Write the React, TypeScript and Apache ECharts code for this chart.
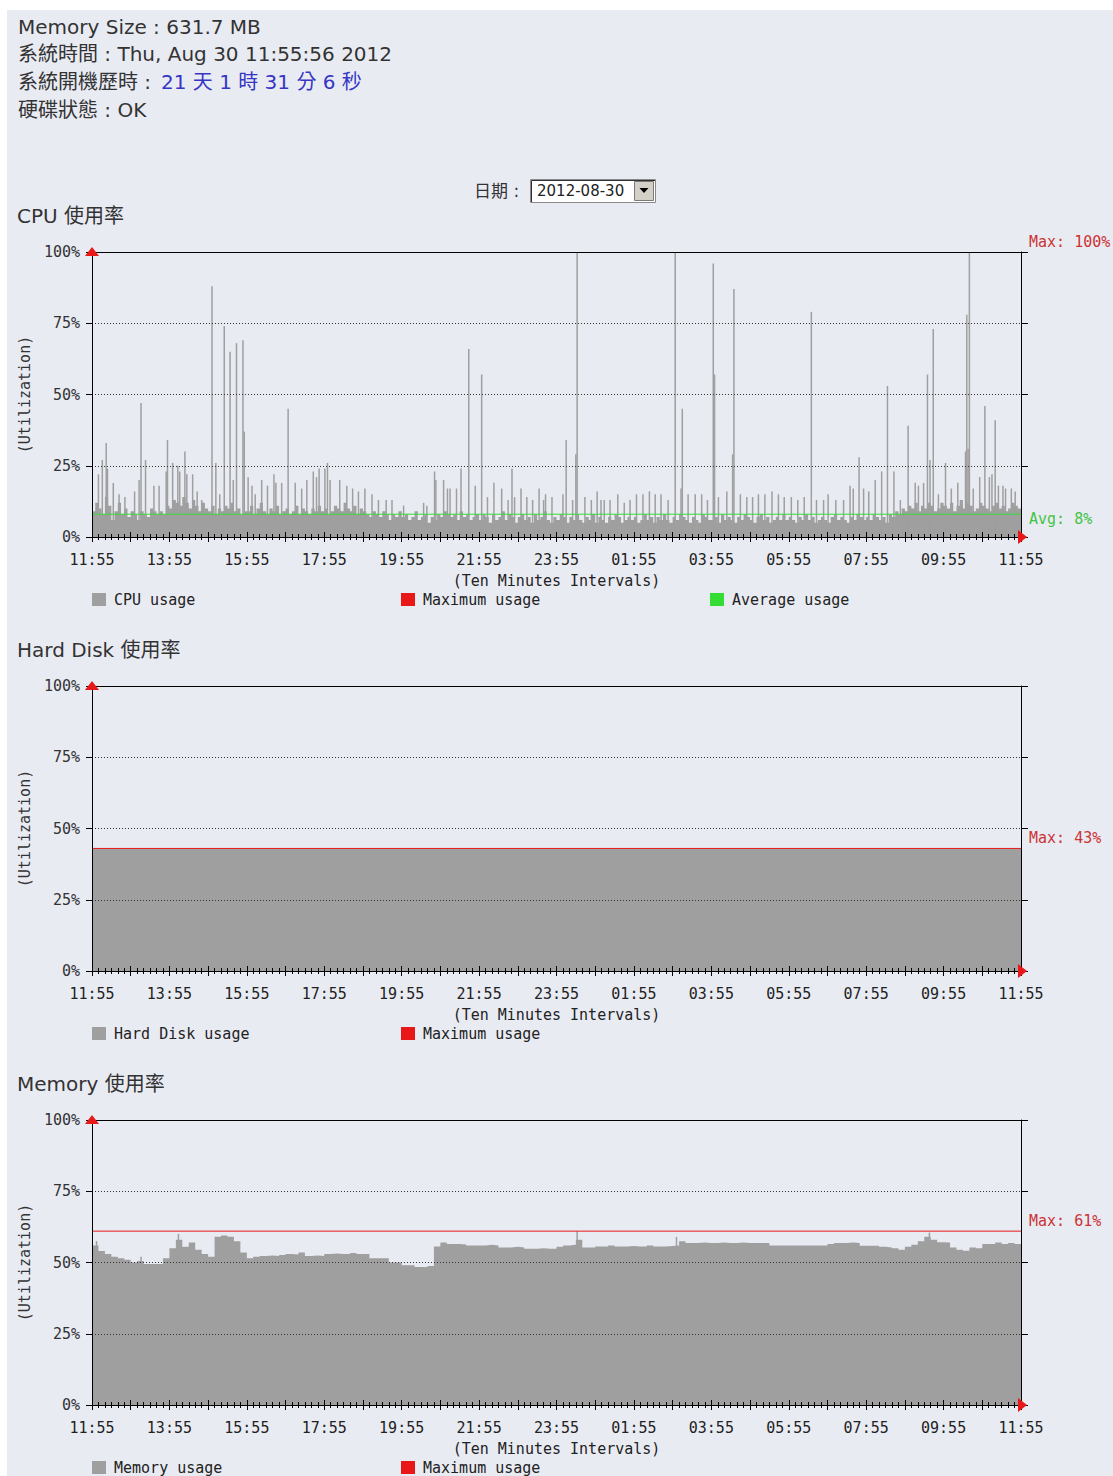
import React, { useEffect, useRef } from "react";
import * as echarts from "echarts";

// ---------------- data ----------------
const startClockMinutes = 11 * 60 + 55; // x axis starts at 11:55
const spanMinutes = 1440; // 24 hours, ticks every 10 minutes

// CPU floor level, one value every 5 minutes (288 values)
const cpuBaseStep = 5;
const cpuBase = [
  9, 12, 10, 8, 14, 11, 6, 9, 12, 8, 10, 7, 9, 8, 6, 9, 8, 7, 10, 9, 8, 9, 8, 11,
  10, 13, 12, 11, 14, 12, 10, 13, 11, 9, 12, 10, 9, 11, 8, 10, 9, 11, 10, 12, 9, 10, 8, 9,
  9, 11, 8, 10, 12, 9, 8, 10, 9, 11, 8, 9, 10, 8, 9, 11, 8, 10, 9, 8, 10, 9, 11, 9,
  10, 8, 9, 11, 10, 9, 12, 10, 9, 11, 8, 10, 9, 8, 7, 9, 8, 7, 9, 8, 6, 8, 7, 9,
  7, 8, 6, 7, 9, 6, 7, 8, 5, 7, 6, 8, 7, 9, 8, 7, 8, 6, 9, 7, 8, 6, 7, 8,
  6, 8, 7, 5, 8, 6, 7, 9, 6, 8, 7, 5, 7, 8, 6, 7, 5, 8, 6, 7, 9, 6, 5, 7,
  6, 8, 7, 5, 7, 6, 8, 6, 5, 7, 6, 8, 5, 7, 6, 5, 7, 6, 8, 7, 5, 6, 7, 6,
  7, 5, 6, 8, 6, 7, 5, 7, 6, 8, 6, 5, 7, 6, 8, 7, 6, 5, 7, 6, 5, 8, 7, 6,
  6, 7, 5, 8, 6, 7, 6, 5, 7, 6, 8, 7, 6, 5, 7, 8, 6, 7, 5, 6, 7, 6, 8, 6,
  7, 6, 5, 7, 6, 8, 6, 7, 5, 6, 7, 6, 5, 7, 8, 6, 7, 6, 5, 7, 6, 8, 7, 6,
  7, 6, 8, 7, 6, 7, 5, 8, 7, 9, 8, 10, 9, 11, 10, 12, 9, 11, 10, 12, 11, 9, 10, 12,
  11, 10, 12, 9, 11, 13, 10, 12, 11, 9, 10, 12, 11, 10, 9, 11, 12, 10, 11, 9, 10, 12, 11, 10,
];

// CPU spikes: [minute after 11:55, utilization %]
const cpuSpikes = [
  [10, 22], [16, 27], [22, 33], [24, 24], [33, 19], [42, 15], [51, 14], [66, 16], [73, 20], [76, 47],
  [83, 27], [96, 18], [104, 18], [115, 23], [117, 34], [125, 26], [133, 25], [136, 23], [144, 30], [147, 22],
  [156, 22], [163, 16], [170, 13], [186, 88], [192, 26], [198, 15], [205, 74], [214, 65], [219, 20], [224, 68],
  [234, 69], [236, 37], [242, 21], [248, 18], [253, 15], [263, 20], [272, 18], [282, 22], [285, 19], [294, 19],
  [304, 45], [315, 19], [325, 17], [333, 20], [343, 23], [348, 21], [352, 24], [361, 24], [365, 26], [369, 20],
  [384, 20], [395, 18], [404, 17], [413, 16], [423, 17], [434, 15], [444, 13], [456, 13], [465, 13], [483, 11],
  [514, 12], [519, 11], [531, 23], [533, 20], [545, 20], [551, 17], [555, 17], [565, 17], [572, 24], [584, 66],
  [594, 18], [604, 57], [613, 14], [623, 19], [635, 17], [645, 13], [651, 24], [655, 14], [665, 17], [674, 14],
  [683, 13], [693, 17], [700, 13], [703, 15], [713, 14], [730, 15], [735, 34], [745, 13], [750, 29], [752, 100],
  [764, 14], [774, 13], [783, 16], [789, 13], [794, 13], [803, 13], [815, 15], [825, 12], [834, 13], [844, 15],
  [854, 15], [864, 16], [873, 15], [882, 15], [893, 13], [904, 100], [913, 17], [915, 45], [924, 15], [935, 15],
  [945, 15], [954, 13], [963, 96], [965, 57], [971, 14], [984, 16], [993, 29], [995, 87], [1005, 15], [1015, 14],
  [1024, 14], [1033, 15], [1043, 15], [1054, 16], [1064, 15], [1073, 14], [1084, 14], [1094, 13], [1104, 14], [1115, 79],
  [1123, 13], [1134, 13], [1141, 15], [1153, 13], [1165, 13], [1175, 18], [1180, 17], [1189, 28], [1196, 17], [1204, 16],
  [1214, 20], [1224, 23], [1233, 53], [1243, 23], [1253, 13], [1265, 39], [1276, 19], [1281, 18], [1289, 19], [1295, 57],
  [1299, 27], [1304, 73], [1312, 15], [1323, 26], [1332, 17], [1342, 19], [1354, 30], [1356, 78], [1358, 31], [1360, 100],
  [1366, 17], [1376, 21], [1384, 46], [1391, 21], [1395, 22], [1400, 41], [1405, 18], [1412, 18], [1416, 17], [1425, 17],
  [1431, 16],
];
const cpuMax = 100;
const cpuAvg = 8;

// Hard disk: flat
const hddTimes = [0, 1440];
const hddUsage = [43, 43];
const hddMax = 43;

// Memory, one value every 10 minutes (144 values)
const memBaseStep = 10;
const memBase = [
  56, 54, 53, 52, 51.5, 51, 50, 50.5, 49.5, 49.5, 49.5, 51.5,
  55, 58, 55.5, 57, 54.5, 53, 52, 59, 59.5, 59, 57.5, 53.5,
  51.5, 52, 52.3, 52.5, 52.3, 52.6, 53, 52.8, 53.5, 52.3, 52.5, 52.3,
  53, 53.2, 53, 53, 53.3, 53, 53, 51.5, 51.5, 51.5, 50, 50,
  49, 49, 48.4, 48.4, 48.8, 55.6, 57, 56.5, 56.5, 56.3, 56, 56,
  56, 56.2, 56, 55.3, 55.3, 55.5, 55.3, 54.8, 54.8, 55, 54.8, 54.8,
  55.5, 56, 56.2, 58, 55.3, 55.3, 55.6, 55.6, 56, 55.6, 55.6, 55.8,
  55.6, 55.6, 56, 55.6, 55.6, 55.8, 56, 57.5, 56.8, 56.8, 57, 56.8,
  56.8, 57, 56.8, 56.8, 57, 56.8, 56.8, 56.8, 56.8, 56, 56, 56,
  56, 56, 56, 56, 56, 56, 56.5, 56.8, 56.8, 57, 56.8, 55.9,
  55.9, 55.9, 55.5, 55.3, 55, 54.5, 55.5, 56.2, 57.5, 59, 58, 57.1,
  57, 55.3, 54.5, 54.1, 55.3, 55, 56.5, 56.5, 57, 56.5, 56.8, 56.5,
];
const memSpikes = [[7, 57.5], [76, 52], [134, 60], [752, 61], [906, 59], [1298, 60.5]];
const memMax = 61;

// ---------------- layout & style ----------------
const W = 1113;
const H = 1476;
const PLOT_LEFT = 92;
const PLOT_W = 929;
const PLOT_H = 285;
const TOPS = [252, 686, 1120];

const MONO = "'DejaVu Sans Mono', 'Liberation Mono', monospace";
const SANS = "'DejaVu Sans', 'Noto Sans CJK TC', sans-serif";
const BG = "#e9ebf3";
const GRAY = "#9f9f9f";
const RED = "#e81818";
const RED_TEXT = "#cc3333";
const GREEN = "#33dd33";
const GREEN_TEXT = "#44c444";
const TEXT = "#333333";
const BLUE = "#3636c4";

const pad = (n: number) => (n < 10 ? "0" + n : "" + n);
const fmtTime = (v: number) => {
  if (v % 120 !== 0) return "";
  const t = (startClockMinutes + v) % 1440;
  return pad(Math.floor(t / 60)) + ":" + pad(t % 60);
};

const stepData = (vals: number[], step: number) =>
  vals.map((v, i) => [i * step, v]).concat([[vals.length * step, vals[vals.length - 1]]]);

function buildOption() {
  const grids = TOPS.map((t) => ({
    left: PLOT_LEFT,
    top: t,
    width: PLOT_W,
    height: PLOT_H,
    show: false,
    containLabel: false,
    outerBoundsMode: "none",
  }));

  const xAxes: any[] = [];
  const yAxes: any[] = [];
  TOPS.forEach((_, k) => {
    xAxes.push({
      gridIndex: k,
      type: "value",
      min: 0,
      max: spanMinutes,
      interval: 60,
      position: "bottom",
      z: 10,
      axisLine: { show: true, onZero: false, lineStyle: { color: "#000", width: 1 } },
      axisTick: { show: true, inside: false, length: 5, lineStyle: { color: "#000" } },
      minorTick: { show: true, splitNumber: 6, length: 3, lineStyle: { color: "#000" } },
      axisLabel: { margin: 15, formatter: fmtTime, color: "#222", fontFamily: MONO, fontSize: 15 },
      splitLine: { show: false },
      name: "(Ten Minutes Intervals)",
      nameLocation: "middle",
      nameGap: 36,
      nameTextStyle: { color: "#222", fontFamily: MONO, fontSize: 15 },
    });
    xAxes.push({
      gridIndex: k,
      type: "value",
      min: 0,
      max: spanMinutes,
      interval: 60,
      position: "bottom",
      z: 10,
      axisLine: { show: false, onZero: false },
      axisTick: { show: true, inside: true, length: 5, lineStyle: { color: "#000" } },
      minorTick: { show: true, splitNumber: 6, length: 3, lineStyle: { color: "#000" } },
      axisLabel: { show: false },
      splitLine: { show: false },
    });
    xAxes.push({
      gridIndex: k,
      type: "value",
      min: 0,
      max: spanMinutes,
      interval: 60,
      position: "top",
      z: 10,
      axisLine: { show: true, onZero: false, lineStyle: { color: "#000", width: 1 } },
      axisTick: { show: false },
      axisLabel: { show: false },
      splitLine: { show: false },
    });
    yAxes.push({
      gridIndex: k,
      type: "value",
      min: 0,
      max: 100,
      interval: 25,
      position: "left",
      z: 10,
      axisLine: { show: true, onZero: false, lineStyle: { color: "#000", width: 1 } },
      axisTick: { show: true, length: 6, lineStyle: { color: "#000" } },
      axisLabel: { formatter: "{value}%", margin: 12, color: TEXT, fontFamily: MONO, fontSize: 15 },
      splitLine: { show: true, lineStyle: { color: "#333", type: [1, 2], width: 1 } },
      name: "(Utilization)",
      nameLocation: "middle",
      nameGap: 53,
      nameTextStyle: { color: TEXT, fontFamily: MONO, fontSize: 15 },
    });
    yAxes.push({
      gridIndex: k,
      type: "value",
      min: 0,
      max: 100,
      interval: 25,
      position: "right",
      z: 10,
      axisLine: { show: true, onZero: false, lineStyle: { color: "#000", width: 1 } },
      axisTick: { show: true, length: 7, lineStyle: { color: "#000" } },
      axisLabel: { show: false },
      splitLine: { show: false },
    });
  });

  const maxSeries = (k: number, v: number, lineWidth: number) => ({
    name: "Maximum usage",
    type: "line",
    xAxisIndex: 3 * k,
    yAxisIndex: 2 * k,
    data: [[0, v], [spanMinutes, v]],
    symbol: "none",
    z: 4,
    silent: true,
    color: RED,
    itemStyle: { color: RED },
    lineStyle: { color: RED, width: lineWidth },
    endLabel: {
      show: true,
      formatter: (p: any) => "Max: " + p.value[1] + "%",
      color: RED_TEXT,
      fontFamily: MONO,
      fontSize: 15,
      distance: 8,
      offset: [0, -10],
    },
  });

  const areaSeries = (name: string, k: number, data: any[], step: any) => ({
    name,
    type: "line",
    xAxisIndex: 3 * k,
    yAxisIndex: 2 * k,
    data,
    step,
    symbol: "none",
    z: 2,
    silent: true,
    color: GRAY,
    itemStyle: { color: GRAY },
    lineStyle: { width: 0, color: GRAY },
    areaStyle: { color: GRAY, opacity: 1 },
  });

  const spikeSeries = (name: string, k: number, data: any[]) => ({
    name,
    type: "bar",
    xAxisIndex: 3 * k,
    yAxisIndex: 2 * k,
    data,
    barWidth: 1.5,
    z: 2,
    silent: true,
    itemStyle: { color: GRAY },
  });

  const series: any[] = [
    // the hard disk / memory maxima come first so the legend takes the visible red line
    maxSeries(1, hddMax, 1),
    maxSeries(2, memMax, 1),
    maxSeries(0, cpuMax, 0), // lies on the top border
    areaSeries("CPU usage", 0, stepData(cpuBase, cpuBaseStep), "end"),
    spikeSeries("CPU usage", 0, cpuSpikes),
    {
      name: "Average usage",
      type: "line",
      xAxisIndex: 0,
      yAxisIndex: 0,
      data: [[0, cpuAvg], [spanMinutes, cpuAvg]],
      symbol: "none",
      z: 4,
      silent: true,
      color: GREEN,
      itemStyle: { color: GREEN },
      lineStyle: { color: GREEN, width: 1 },
      endLabel: {
        show: true,
        formatter: (p: any) => "Avg: " + p.value[1] + "%",
        color: GREEN_TEXT,
        fontFamily: MONO,
        fontSize: 15,
        distance: 8,
        offset: [0, 5],
      },
    },
    areaSeries("Hard Disk usage", 1, hddTimes.map((t, i) => [t, hddUsage[i]]), false),
    areaSeries("Memory usage", 2, stepData(memBase, memBaseStep), "end"),
    spikeSeries("Memory usage", 2, memSpikes),
  ];

  const legendCommon = {
    orient: "horizontal",
    padding: 0,
    itemWidth: 14,
    itemHeight: 13,
    icon: "rect",
    selectedMode: false,
    itemStyle: { borderWidth: 0 },
    textStyle: { fontFamily: MONO, fontSize: 15, color: "#222", padding: [0, 0, 0, 3] },
  };
  const legendRows = [
    [["CPU usage", 92], ["Maximum usage", 401], ["Average usage", 710]],
    [["Hard Disk usage", 92], ["Maximum usage", 401]],
    [["Memory usage", 92], ["Maximum usage", 401]],
  ];
  const legends: any[] = [];
  legendRows.forEach((row, k) => {
    row.forEach(([name, left]) => {
      legends.push({ ...legendCommon, data: [name], left, top: TOPS[k] + 340 });
    });
  });

  const txt = (x: number, y: number, text: string, fill = TEXT, size = 20, font = SANS) => ({
    type: "text",
    x,
    y,
    z: 5,
    silent: true,
    style: { text, fill, fontSize: size, fontFamily: font, verticalAlign: "middle", align: "left" },
  });

  const titles = ["CPU 使用率", "Hard Disk 使用率", "Memory 使用率"];

  const graphics: any[] = [
    { type: "rect", z: -10, silent: true, shape: { x: 7, y: 10, width: W - 7, height: H - 10 }, style: { fill: BG } },
    txt(18, 27, "Memory Size : 631.7 MB"),
    txt(18, 54, "系統時間 : Thu, Aug 30 11:55:56 2012"),
    txt(18, 82, "系統開機歷時 : "),
    txt(161, 82, "21 天 1 時 31 分 6 秒", BLUE),
    txt(18, 110, "硬碟狀態 : OK"),
    txt(474, 191, "日期 : ", TEXT, 17),
    { type: "rect", z: 5, silent: true, shape: { x: 530.5, y: 179.5, width: 125, height: 23 }, style: { fill: "#ffffff", stroke: "#8a8a8a", lineWidth: 1 } },
    { type: "polyline", z: 6, silent: true, shape: { points: [[531.5, 202], [531.5, 180.5], [655, 180.5]] }, style: { stroke: "#303030", lineWidth: 1, fill: null } },
    txt(537, 191, "2012-08-30", "#222", 15),
    { type: "rect", z: 6, silent: true, shape: { x: 634.5, y: 181.5, width: 19, height: 19 }, style: { fill: "#d4d0c8", stroke: "#7a7a7a", lineWidth: 1 } },
    { type: "polygon", z: 7, silent: true, shape: { points: [[639.5, 188], [648.5, 188], [644, 193]] }, style: { fill: "#000" } },
  ];
  TOPS.forEach((top, k) => {
    graphics.push(txt(17, top - 36, titles[k], TEXT, 20));
    const bottom = top + PLOT_H;
    graphics.push({
      type: "polygon",
      z: 20,
      silent: true,
      shape: { points: [[85, top + 4], [99, top + 4], [92, top - 5]] },
      style: { fill: RED },
    });
    graphics.push({
      type: "polygon",
      z: 20,
      silent: true,
      shape: { points: [[PLOT_LEFT + PLOT_W - 3, bottom - 7], [PLOT_LEFT + PLOT_W - 3, bottom + 7], [PLOT_LEFT + PLOT_W + 6, bottom]] },
      style: { fill: RED },
    });
  });

  return {
    animation: false,
    backgroundColor: "#ffffff",
    textStyle: { fontFamily: MONO },
    grid: grids,
    xAxis: xAxes,
    yAxis: yAxes,
    legend: legends,
    series,
    graphic: { elements: graphics },
  };
}

export default function App() {
  const ref = useRef<HTMLDivElement>(null);
  useEffect(() => {
    if (!ref.current) return;
    const chart = echarts.init(ref.current, null, { renderer: "svg", width: W, height: H });
    chart.setOption(buildOption() as any);
    return () => chart.dispose();
  }, []);
  return <div ref={ref} style={{ position: "absolute", left: 0, top: 0, width: W, height: H }} />;
}
